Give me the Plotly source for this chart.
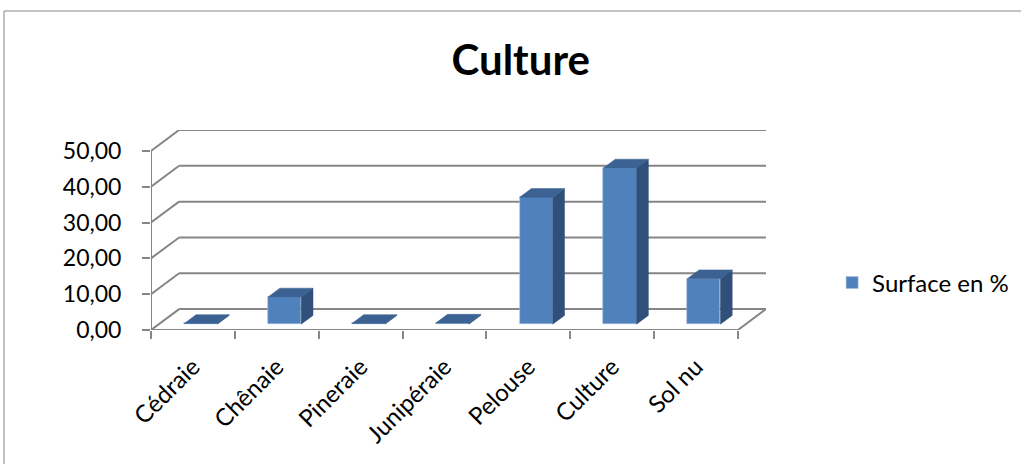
import plotly.graph_objects as go

# Data
categories = ["Cédraie", "Chênaie", "Pineraie", "Junipéraie", "Pelouse", "Culture", "Sol nu"]
surface_pct = [0.2, 7.6, 0.2, 0.3, 35.4, 43.6, 12.7]
y_ticks = [0, 10, 20, 30, 40, 50]

# 3D look: depth of the back wall in axis units, bar position in that depth
DEPTH_X = 0.335
DEPTH_Y = 5.83
BAR_FRONT = 0.28
BAR_DEPTH = 0.42
BAR_W = 0.395

FRONT = "#4F81BD"
SIDE = "#30507A"
TOP = "#3B6293"
GRID = "#868686"
FONT = "Lato"

n = len(categories)
xs = list(range(n))
base = BAR_FRONT * DEPTH_Y
shift = BAR_FRONT * DEPTH_X
ddx = BAR_DEPTH * DEPTH_X
ddy = BAR_DEPTH * DEPTH_Y

fig = go.Figure()

# --- front faces of the columns
fig.add_trace(
    go.Bar(
        x=[x + shift for x in xs],
        y=surface_pct,
        base=base,
        width=BAR_W,
        name="Surface en %",
        marker=dict(color=FRONT, line=dict(color="#A7C0DE", width=0.6)),
        showlegend=True,
    )
)

# --- side and top faces
for x, v in zip(xs, surface_pct):
    l = x + shift - BAR_W / 2
    r = x + shift + BAR_W / 2
    top = base + v
    fig.add_trace(
        go.Scatter(
            x=[r, r, r + ddx, r + ddx, r],
            y=[base, top, top + ddy, base + ddy, base],
            fill="toself",
            fillcolor=SIDE,
            mode="lines",
            line=dict(color=SIDE, width=0.5),
            showlegend=False,
            hoverinfo="skip",
        )
    )
    fig.add_trace(
        go.Scatter(
            x=[l, r, r + ddx, l + ddx, l],
            y=[top, top, top + ddy, top + ddy, top],
            fill="toself",
            fillcolor=TOP,
            mode="lines",
            line=dict(color=TOP, width=0.5),
            showlegend=False,
            hoverinfo="skip",
        )
    )

# category labels on an overlaid axis (ticks sit on boundaries on the main one)
fig.add_trace(
    go.Scatter(x=xs, y=[None] * n, xaxis="x2", showlegend=False, hoverinfo="skip")
)

x_lo, x_hi = -0.5, n - 0.5

# --- wall / floor / axes lines
shapes = []
for v in y_ticks:
    shapes.append(dict(type="line", x0=x_lo + DEPTH_X, y0=v + DEPTH_Y, x1=x_hi + DEPTH_X, y1=v + DEPTH_Y,
                       line=dict(color=GRID, width=2), layer="below"))
    shapes.append(dict(type="line", x0=x_lo, y0=v, x1=x_lo + DEPTH_X, y1=v + DEPTH_Y,
                       line=dict(color=GRID, width=2), layer="below"))
shapes.append(dict(type="line", x0=x_hi, y0=0, x1=x_hi + DEPTH_X, y1=DEPTH_Y,
                   line=dict(color=GRID, width=2), layer="below"))
shapes.append(dict(type="line", x0=x_lo, y0=0, x1=x_hi, y1=0,
                   line=dict(color=GRID, width=2), layer="below"))
shapes.append(dict(type="line", x0=x_lo, y0=0, x1=x_lo, y1=max(y_ticks),
                   line=dict(color=GRID, width=2), layer="below"))
# chart frame
shapes.append(dict(type="rect", xref="paper", yref="paper", x0=-0.239, y0=-1.2, x1=1.6, y1=1.595,
                   line=dict(color=GRID, width=1), layer="below"))

fig.update_layout(
    width=1021,
    height=464,
    margin=dict(l=151, r=255, t=130, b=134, autoexpand=False),
    paper_bgcolor="white",
    plot_bgcolor="rgba(0,0,0,0)",
    separators=", ",
    font=dict(family=FONT, size=23, color="black"),
    title=dict(text="<b>Culture</b>", x=0.51, xanchor="center", y=0.869, yanchor="middle",
               font=dict(family=FONT, size=42, color="black")),
    shapes=shapes,
    xaxis=dict(
        range=[x_lo, x_hi + DEPTH_X],
        tickvals=[i - 0.5 for i in range(n + 1)],
        ticktext=[""] * (n + 1),
        ticks="outside",
        ticklen=8,
        tickcolor=GRID,
        tickwidth=2,
        showgrid=False,
        zeroline=False,
        showline=False,
        fixedrange=True,
    ),
    xaxis2=dict(
        overlaying="x",
        side="bottom",
        range=[x_lo, x_hi + DEPTH_X],
        tickvals=xs,
        ticktext=categories,
        tickangle=-45,
        ticks="",
        ticklabelstandoff=17,
        showgrid=False,
        zeroline=False,
        showline=False,
        tickfont=dict(family=FONT, size=24),
    ),
    yaxis=dict(
        range=[0, max(y_ticks) + DEPTH_Y],
        tickvals=y_ticks,
        tickformat=".2f",
        ticks="outside",
        ticklen=8,
        tickcolor=GRID,
        tickwidth=2,
        ticklabelstandoff=16,
        showgrid=False,
        zeroline=False,
        showline=False,
        tickfont=dict(family=FONT, size=23),
    ),
    legend=dict(x=1.1075, y=0.235, xanchor="left", yanchor="middle",
                font=dict(family=FONT, size=24), bgcolor="rgba(0,0,0,0)"),
    bargap=0,
)

# page body margin would push the chart by 8px
fig.write_html(
    "out.html",
    config={"displayModeBar": False},
    post_script="document.body.style.margin='0px';",
)
